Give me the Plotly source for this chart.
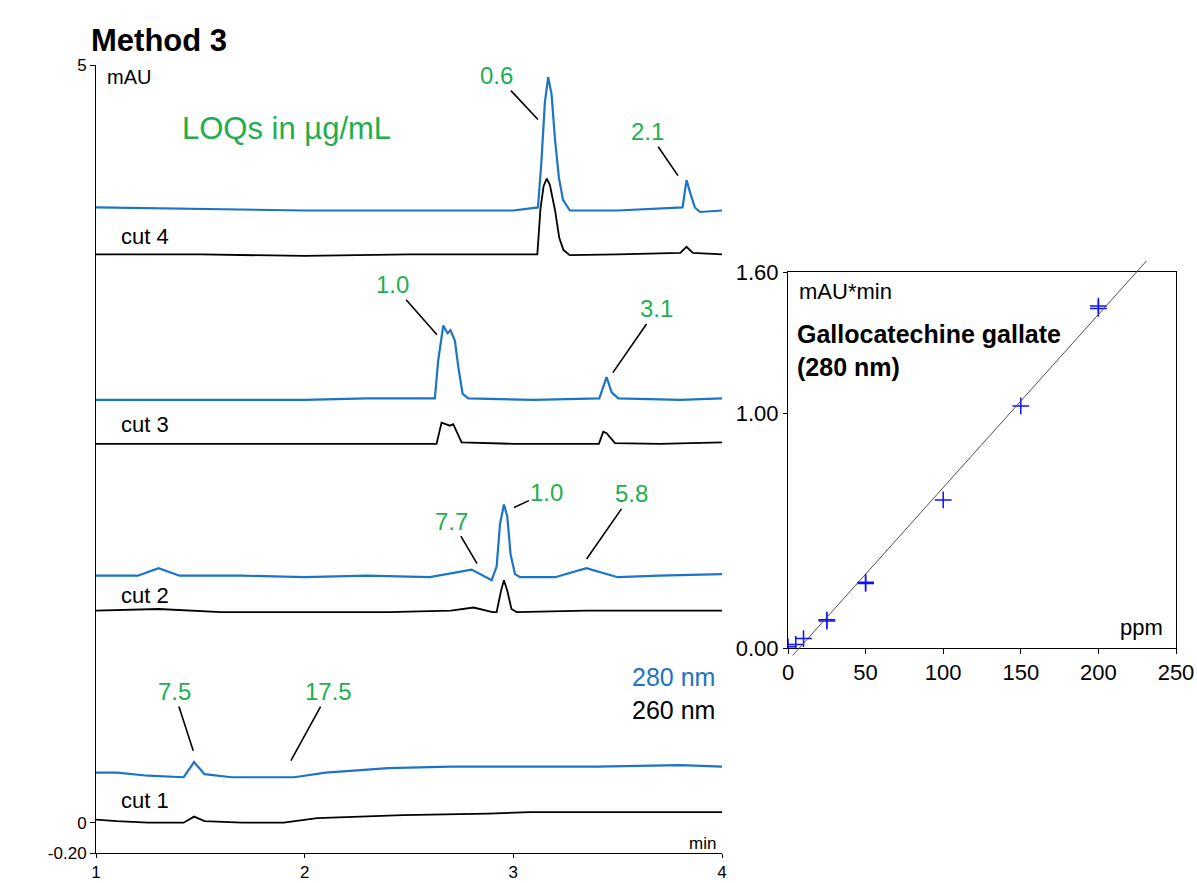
import numpy as np
import plotly.graph_objects as go

# ---------------- chromatogram data (time / min, signal / mAU incl. display offset) -------------
cut1_260_t = [1.00, 1.10, 1.25, 1.42, 1.47, 1.52, 1.70, 1.90, 2.06, 2.26, 2.47, 2.88, 3.08, 3.40, 3.80, 4.00]
cut1_260_v = [0.02, 0.01, 0.00, 0.00, 0.04, 0.01, 0.00, 0.00, 0.03, 0.04, 0.05, 0.06, 0.07, 0.07, 0.07, 0.07]
cut1_280_t = [1.00, 1.10, 1.25, 1.42, 1.47, 1.52, 1.65, 1.80, 1.95, 2.10, 2.20, 2.40, 2.70, 3.00, 3.40, 3.80, 4.00]
cut1_280_v = [0.33, 0.33, 0.31, 0.30, 0.40, 0.32, 0.30, 0.30, 0.30, 0.33, 0.34, 0.36, 0.37, 0.37, 0.37, 0.38, 0.37]

cut2_260_t = [1.00, 1.30, 1.60, 2.00, 2.40, 2.70, 2.81, 2.90, 2.92, 2.941, 2.955, 2.971, 2.991, 3.016, 3.35, 3.70, 4.00]
cut2_260_v = [1.40, 1.41, 1.39, 1.39, 1.39, 1.40, 1.42, 1.39, 1.39, 1.53, 1.60, 1.53, 1.41, 1.39, 1.40, 1.40, 1.40]
cut2_280_t = [1.00, 1.20, 1.30, 1.40, 1.70, 2.00, 2.30, 2.60, 2.80, 2.896, 2.92, 2.936, 2.955, 2.971, 2.987, 3.008, 3.032, 3.20, 3.35, 3.50, 3.70, 4.00]
cut2_280_v = [1.63, 1.63, 1.68, 1.63, 1.63, 1.62, 1.63, 1.62, 1.67, 1.60, 1.69, 1.97, 2.10, 2.02, 1.77, 1.64, 1.62, 1.62, 1.68, 1.62, 1.63, 1.64]

cut3_260_t = [1.00, 1.50, 2.00, 2.40, 2.632, 2.656, 2.696, 2.712, 2.752, 3.00, 3.30, 3.41, 3.431, 3.447, 3.487, 3.70, 4.00]
cut3_260_v = [2.50, 2.50, 2.50, 2.50, 2.50, 2.64, 2.62, 2.63, 2.51, 2.50, 2.50, 2.50, 2.58, 2.57, 2.505, 2.50, 2.51]
cut3_280_t = [1.00, 1.50, 2.00, 2.30, 2.624, 2.640, 2.664, 2.685, 2.699, 2.720, 2.736, 2.757, 2.784, 3.10, 3.412, 3.447, 3.471, 3.503, 3.80, 4.00]
cut3_280_v = [2.79, 2.79, 2.79, 2.80, 2.80, 3.05, 3.28, 3.23, 3.25, 3.18, 3.01, 2.83, 2.80, 2.79, 2.80, 2.94, 2.84, 2.80, 2.79, 2.80]

cut4_260_t = [1.00, 1.50, 2.00, 2.50, 3.00, 3.115, 3.13, 3.145, 3.16, 3.175, 3.20, 3.22, 3.24, 3.27, 3.50, 3.80, 3.83, 3.86, 4.00]
cut4_260_v = [3.75, 3.75, 3.74, 3.75, 3.75, 3.75, 4.05, 4.20, 4.25, 4.21, 4.04, 3.86, 3.78, 3.745, 3.75, 3.76, 3.80, 3.76, 3.75]
cut4_280_t = [1.00, 1.50, 2.00, 2.50, 3.00, 3.118, 3.135, 3.151, 3.167, 3.183, 3.199, 3.218, 3.238, 3.271, 3.50, 3.811, 3.830, 3.849, 3.870, 3.894, 4.00]
cut4_280_v = [4.06, 4.05, 4.04, 4.04, 4.04, 4.06, 4.37, 4.75, 4.92, 4.81, 4.52, 4.26, 4.11, 4.04, 4.04, 4.06, 4.24, 4.15, 4.06, 4.03, 4.04]

# LOQ labels (µg/mL) and the peaks they point at
loq_text = ["0.6", "2.1", "1.0", "3.1", "7.7", "1.0", "5.8", "7.5", "17.5"]
loq_peak_t = [3.118, 3.789, 2.634, 3.477, 2.826, 3.003, 3.351, 1.466, 1.934]
loq_peak_v = [4.64, 4.27, 3.22, 2.97, 1.71, 2.08, 1.74, 0.475, 0.41]
# label anchor positions
loq_label_t = [2.921, 3.645, 2.423, 3.688, 2.706, 3.161, 3.568, 1.374, 2.116]
loq_label_v = [4.93, 4.56, 3.55, 3.39, 1.99, 2.18, 2.17, 0.865, 0.865]

cut_labels = ["cut 4", "cut 3", "cut 2", "cut 1"]
cut_label_v = [3.87, 2.63, 1.50, 0.145]

left_y_ticks = [-0.2, 0, 5]
left_y_ticktext = ["-0.20", "0", "5"]
left_x_ticks = [1, 2, 3, 4]

# ---------------- calibration data ----------------
conc_ppm = [0, 5, 10, 25, 25, 50, 50, 100, 150, 200, 200]
area_mau_min = [0.005, 0.015, 0.04, 0.12, 0.115, 0.28, 0.275, 0.63, 1.03, 1.455, 1.445]
fit_x_span = [3, 231]
right_y_ticks = [0, 1.0, 1.6]
right_y_ticktext = ["0.00", "1.00", "1.60"]
right_x_ticks = [0, 50, 100, 150, 200, 250]

# ---------------- styles ----------------
BLUE = "#1b74c6"
GREEN = "#1fae4f"
FONT = "Liberation Sans, Arial, sans-serif"
W, H = 1197, 883

fig = go.Figure()

traces = [
    (cut1_260_t, cut1_260_v, "black"), (cut1_280_t, cut1_280_v, BLUE),
    (cut2_260_t, cut2_260_v, "black"), (cut2_280_t, cut2_280_v, BLUE),
    (cut3_260_t, cut3_260_v, "black"), (cut3_280_t, cut3_280_v, BLUE),
    (cut4_260_t, cut4_260_v, "black"), (cut4_280_t, cut4_280_v, BLUE),
]
for t, v, c in traces:
    fig.add_trace(go.Scatter(x=t, y=v, mode="lines", line=dict(color=c, width=2.2 if c == BLUE else 1.8),
                             xaxis="x", yaxis="y", showlegend=False, hoverinfo="skip"))

# calibration points
fig.add_trace(go.Scatter(x=conc_ppm, y=area_mau_min, mode="markers",
                         marker=dict(symbol="cross-thin", size=12, line=dict(color="#1010ff", width=1.5)),
                         xaxis="x2", yaxis="y2", showlegend=False))

# regression line computed from the calibration points
slope, intercept = np.polyfit(conc_ppm, area_mau_min, 1)
fx = np.array(fit_x_span, dtype=float)
fig.add_trace(go.Scatter(x=fx, y=slope * fx + intercept, mode="lines",
                         line=dict(color="#505050", width=1),
                         xaxis="x2", yaxis="y3", showlegend=False))

# ---------------- domains ----------------
lx0, lx1 = 96 / W, 722 / W
ly0, ly1 = 1 - 853 / H, 1 - 65 / H
rx0, rx1 = 788 / W, 1176 / W
ry0, ry1 = 1 - 648 / H, 1 - 272 / H
ext = 0.03
r_per = 1.6 / (ry1 - ry0)

axis_common = dict(showline=True, linecolor="black", linewidth=1, ticks="outside",
                   tickcolor="black", showgrid=False, zeroline=False, automargin=False)

fig.update_layout(
    width=W, height=H, autosize=False,
    margin=dict(l=0, r=0, t=0, b=0, pad=0),
    paper_bgcolor="white", plot_bgcolor="rgba(0,0,0,0)",
    font=dict(family=FONT, color="black"),
    xaxis=dict(domain=[lx0, lx1], range=[1, 4], tickvals=left_x_ticks, anchor="y", ticklen=4,
               tickfont=dict(size=17), **axis_common),
    yaxis=dict(domain=[ly0, ly1], range=[-0.2, 5], tickvals=left_y_ticks, ticktext=left_y_ticktext,
               anchor="x", ticklen=5, tickfont=dict(size=17), **axis_common),
    xaxis2=dict(domain=[rx0, rx1], range=[0, 250], tickvals=right_x_ticks, anchor="y2", mirror=True,
                ticklen=5, tickfont=dict(size=22), **axis_common),
    yaxis2=dict(domain=[ry0, ry1], range=[0, 1.6], tickvals=right_y_ticks, ticktext=right_y_ticktext,
                anchor="x2", mirror=True, ticklen=4, tickfont=dict(size=22), **axis_common),
    yaxis3=dict(domain=[ry0 - ext, ry1 + ext], range=[-ext * r_per, 1.6 + ext * r_per],
                anchor="x2", visible=False, showgrid=False, zeroline=False, automargin=False),
)

ann = []
for txt, pt, pv, lt, lv in zip(loq_text, loq_peak_t, loq_peak_v, loq_label_t, loq_label_v):
    ann.append(dict(x=pt, y=pv, ax=lt, ay=lv, xref="x", yref="y", axref="x", ayref="y",
                    text=txt, showarrow=True, arrowhead=0, arrowwidth=1.6, arrowcolor="black",
                    standoff=0, font=dict(size=24, color=GREEN)))
for txt, v in zip(cut_labels, cut_label_v):
    ann.append(dict(x=1.11, y=v, xref="x", yref="y", text=txt, showarrow=False, xanchor="left",
                    yanchor="middle", font=dict(size=22, color="black")))
ann += [
    dict(x=1.4025, y=4.58, xref="x", yref="y", text="LOQs in µg/mL", showarrow=False, xanchor="left",
         yanchor="middle", font=dict(size=31, color=GREEN)),
    dict(x=1.043, y=4.92, xref="x", yref="y", text="mAU", showarrow=False, xanchor="left",
         yanchor="middle", font=dict(size=20)),
    dict(x=3.98, y=-0.14, xref="x", yref="y", text="min", showarrow=False, xanchor="right",
         yanchor="middle", font=dict(size=17)),
    dict(x=3.976, y=0.964, xref="x", yref="y", text="280 nm", showarrow=False, xanchor="right",
         yanchor="middle", font=dict(size=25, color=BLUE)),
    dict(x=3.976, y=0.746, xref="x", yref="y", text="260 nm", showarrow=False, xanchor="right",
         yanchor="middle", font=dict(size=25, color="black")),
    dict(x=89 / W, y=1 - 40 / H, xref="paper", yref="paper", text="<b>Method 3</b>", showarrow=False,
         xanchor="left", yanchor="middle", font=dict(size=31)),
    dict(x=5.8, y=1.515, xref="x2", yref="y2", text="mAU*min", showarrow=False, xanchor="left",
         yanchor="middle", font=dict(size=22)),
    dict(x=4.2, y=1.264, xref="x2", yref="y2", text="<b>Gallocatechine gallate<br>(280 nm)</b>",
         showarrow=False, xanchor="left", yanchor="middle", align="left", font=dict(size=25)),
    dict(x=242.9, y=0.089, xref="x2", yref="y2", text="ppm", showarrow=False, xanchor="right",
         yanchor="middle", font=dict(size=22)),
]
fig.update_layout(annotations=ann)

fig.write_html("out.html", config={"displayModeBar": False},
               post_script="document.body.style.margin='0';")
